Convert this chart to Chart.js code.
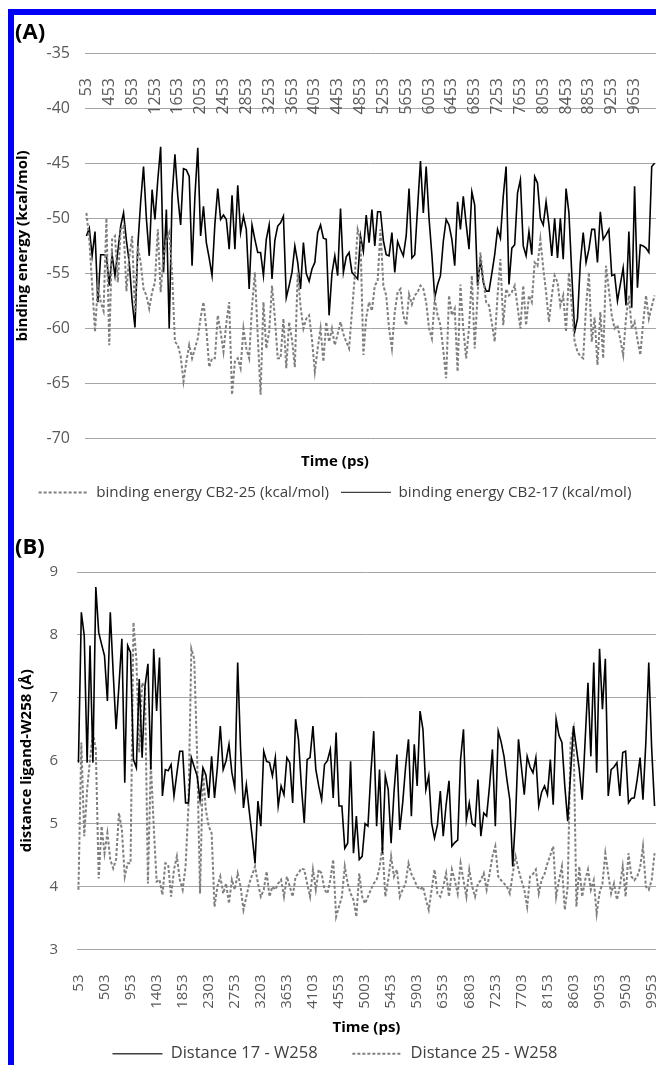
<!DOCTYPE html>
<html>
<head>
<meta charset="utf-8">
<script src="https://cdn.jsdelivr.net/npm/chart.js@4.4.1/dist/chart.umd.min.js"></script>
<style>
  html, body { margin: 0; padding: 0; background: #fff; overflow: hidden; }
  #page { position: relative; width: 656px; height: 1065px; overflow: hidden; }
  #frame { position: absolute; left: 8px; top: 9px; right: 0; bottom: 0;
           border-top: 6px solid #0000f5; border-left: 6px solid #0000f5; }
  canvas { position: absolute; left: 14px; }
  .panel { position: absolute; left: 15px; font: bold 22px 'Open Sans', sans-serif; color: #000; }
</style>
</head>
<body>
<div id="page">
  <div id="frame"></div>
  <canvas id="chartA" width="642" height="495" style="top:15px"></canvas>
  <canvas id="chartB" width="642" height="542" style="top:530px"></canvas>
  <div class="panel" style="top:15px">(A)</div>
  <div class="panel" style="top:530px">(B)</div>
</div>
<script>
// time axis: one frame every 50 ps starting at 53 ps
var times = Array.from({ length: 200 }, function (_, i) { return 53 + 50 * i; });
var ticksA = [53, 453, 853, 1253, 1653, 2053, 2453, 2853, 3253, 3653, 4053, 4453, 4853,
  5253, 5653, 6053, 6453, 6853, 7253, 7653, 8053, 8453, 8853, 9253, 9653];
var ticksB = [53, 503, 953, 1403, 1853, 2303, 2753, 3203, 3653, 4103, 4553, 5003,
  5453, 5903, 6353, 6803, 7253, 7703, 8153, 8603, 9053, 9503, 9953];

// (A) binding energy, kcal/mol
var cb25 = [
  -49.5,-51.9,-56.0,-60.3,-56.1,-57.6,-58.4,-50.0,-61.5,-51.9,-51.6,-55.8,-51.0,-50.7,-56.6,-53.5,-51.6,-58.5,-52.5,-54.0,
  -56.4,-57.0,-58.2,-56.7,-55.8,-51.0,-56.7,-53.4,-52.0,-51.3,-55.0,-61.2,-61.5,-62.5,-64.8,-63.0,-61.5,-62.7,-61.8,-60.9,
  -59.0,-57.6,-60.0,-63.5,-62.7,-62.7,-58.8,-60.3,-62.1,-59.5,-57.6,-66.0,-63.0,-62.7,-63.6,-60.0,-61.8,-62.7,-58.0,-54.9,
  -60.6,-66.0,-57.6,-61.8,-60.3,-56.1,-59.0,-62.7,-62.7,-59.1,-63.6,-59.4,-61.0,-63.5,-54.9,-58.0,-60.0,-59.1,-58.8,-61.0,
  -63.9,-61.8,-60.0,-63.0,-59.4,-61.2,-60.0,-61.5,-60.5,-59.4,-60.5,-61.2,-61.8,-58.5,-55.2,-51.0,-51.9,-62.4,-59.0,-57.6,
  -58.4,-56.1,-55.7,-51.0,-56.1,-57.0,-60.0,-61.8,-58.5,-56.7,-56.4,-58.8,-59.7,-56.9,-57.8,-57.0,-56.7,-56.1,-56.4,-57.6,
  -60.0,-60.9,-57.3,-58.8,-59.7,-62.0,-64.5,-57.0,-58.8,-58.2,-63.9,-56.0,-60.0,-62.7,-60.0,-55.2,-61.8,-57.0,-53.1,-55.5,
  -57.6,-57.9,-59.5,-61.2,-57.0,-53.7,-59.7,-56.4,-57.0,-56.7,-56.1,-58.0,-60.0,-56.1,-59.7,-57.0,-57.6,-54.0,-54.3,-51.9,
  -54.5,-56.7,-59.4,-57.0,-55.2,-55.8,-57.9,-57.0,-60.3,-54.9,-58.0,-61.2,-62.1,-62.5,-62.7,-58.0,-54.9,-61.2,-59.0,-63.3,
  -58.5,-62.7,-54.3,-56.5,-58.8,-60.0,-59.7,-61.0,-62.4,-59.0,-57.0,-60.0,-59.4,-61.0,-62.4,-59.5,-57.0,-59.1,-58.0,-57.0
];
var cb17 = [
  -51.6,-50.9,-53.4,-51.2,-57.6,-53.3,-53.3,-53.4,-56.1,-53.3,-55.2,-53.0,-50.7,-49.5,-52.0,-54.0,-57.5,-59.9,-52.5,-48.5,
  -45.3,-50.0,-53.4,-47.4,-50.1,-46.5,-43.5,-54.9,-49.2,-60.0,-48.0,-44.2,-48.0,-50.6,-45.5,-45.6,-46.2,-54.3,-48.0,-43.6,
  -51.6,-48.9,-52.2,-53.6,-55.2,-50.5,-47.3,-50.1,-49.7,-50.1,-52.8,-47.9,-52.8,-47.0,-51.3,-49.8,-51.0,-56.4,-50.6,-51.9,
  -53.1,-53.1,-55.2,-51.9,-50.6,-55.5,-52.0,-50.7,-50.4,-49.8,-57.2,-56.1,-54.9,-52.5,-54.0,-56.4,-52.2,-55.0,-55.7,-54.6,
  -54.0,-51.3,-50.6,-51.8,-51.9,-58.8,-55.0,-53.4,-55.2,-49.1,-54.9,-53.5,-53.1,-54.9,-55.2,-55.5,-51.6,-53.0,-49.7,-52.2,
  -49.2,-52.5,-49.4,-49.4,-52.0,-53.3,-53.4,-51.3,-54.9,-52.1,-52.8,-53.4,-51.6,-47.3,-53.6,-53.3,-49.0,-44.8,-49.5,-45.3,
  -50.0,-53.3,-57.2,-56.0,-55.2,-52.1,-50.1,-50.6,-51.9,-54.3,-48.5,-51.0,-48.0,-50.5,-52.8,-47.6,-48.8,-56.1,-53.7,-55.8,
  -56.6,-56.6,-55.0,-53.3,-51.0,-51.8,-48.0,-45.3,-56.0,-52.7,-52.4,-47.7,-46.5,-52.5,-53.4,-51.2,-53.3,-46.2,-46.8,-50.0,
  -50.6,-48.5,-50.6,-53.4,-50.0,-53.6,-50.0,-53.7,-47.3,-49.5,-55.0,-60.3,-59.1,-54.0,-51.3,-54.0,-52.8,-51.0,-51.0,-54.0,
  -49.4,-51.9,-51.5,-51.0,-55.2,-55.1,-57.5,-56.0,-54.5,-57.9,-51.2,-58.1,-47.1,-56.3,-52.4,-52.5,-52.7,-53.1,-45.3,-45.0
];

// (B) distance ligand - W258, angstrom
var d17 = [
  5.97,8.36,7.99,5.97,7.83,5.97,8.76,8.04,7.85,7.67,6.95,8.36,7.4,6.5,7.2,7.94,5.65,7.83,7.72,6.02,
  5.89,7.3,6.05,7.19,7.54,5.86,7.78,6.79,7.64,5.44,5.86,5.84,5.94,5.44,5.8,6.15,6.15,5.33,5.33,6.05,
  5.9,5.76,5.38,5.89,5.78,5.41,6.07,5.41,5.9,6.55,5.86,6.0,6.26,5.81,5.57,7.56,6.2,5.25,5.62,5.2,
  4.8,4.37,5.36,4.96,6.15,5.99,5.97,5.76,6.05,5.28,5.6,5.46,6.05,5.97,5.33,6.66,6.34,5.6,5.01,6.02,
  6.05,6.55,5.86,5.6,5.38,5.94,6.0,6.18,5.41,6.45,5.28,5.28,4.61,4.69,5.99,4.53,5.12,4.43,4.48,5.0,
  4.96,5.8,6.47,4.96,5.86,4.53,5.76,5.54,4.69,5.5,6.1,4.9,5.33,5.9,6.34,5.12,6.26,5.6,6.79,6.5,
  5.54,5.76,5.01,4.77,4.98,5.52,4.8,5.3,5.68,4.64,4.7,4.74,6.02,6.5,5.06,5.33,5.0,4.96,5.7,4.8,
  5.17,5.12,5.6,6.18,4.96,6.47,6.3,6.07,5.7,5.38,4.32,5.12,6.34,5.9,5.46,6.07,5.9,5.81,6.05,5.28,
  5.5,5.6,5.46,6.02,5.3,6.66,6.4,6.29,5.6,5.04,5.8,6.55,6.2,5.86,5.38,6.3,7.24,6.07,7.56,5.81,
  7.78,6.82,7.62,5.44,5.86,5.9,5.97,5.44,6.13,6.15,5.33,5.4,5.41,5.7,6.05,5.38,6.3,7.56,6.2,5.28
];
var d25 = [
  3.95,6.29,4.8,5.54,6.02,6.45,6.18,4.13,4.96,4.53,4.85,4.43,4.29,4.43,5.17,4.9,4.16,4.37,4.37,8.2,
  7.62,6.13,7.24,7.14,4.05,5.97,4.96,4.08,4.11,3.87,4.37,4.35,3.84,4.27,4.48,4.11,3.95,4.32,5.28,7.78,
  7.62,6.07,3.89,5.86,5.22,4.96,4.85,3.68,4.0,4.16,3.89,4.05,3.73,4.11,3.95,4.21,4.0,3.63,3.84,4.05,
  4.19,4.32,4.05,3.84,3.95,4.24,3.84,4.0,3.95,4.05,4.11,3.84,4.16,4.0,3.84,4.16,4.21,4.29,4.27,4.05,
  3.84,4.27,3.95,4.27,4.21,3.95,3.89,4.11,4.43,3.52,3.68,3.84,4.32,4.05,3.89,3.79,3.52,4.21,3.84,3.73,
  3.84,3.95,4.05,4.11,4.3,4.64,3.84,4.1,4.48,4.16,4.27,3.84,3.95,4.05,4.37,4.2,4.11,4.0,3.95,4.0,
  3.8,3.63,3.95,4.27,3.89,3.84,4.0,4.21,3.84,4.27,4.1,3.89,4.37,4.1,3.84,4.27,4.0,3.84,4.05,4.1,
  4.21,3.95,4.2,4.48,4.64,4.16,4.1,4.05,4.0,3.89,4.2,4.48,4.27,4.1,3.95,3.68,4.16,4.2,4.27,3.89,
  4.11,4.2,4.37,4.5,4.64,3.84,4.1,4.32,3.63,4.0,6.29,6.5,3.68,4.32,3.84,4.1,4.27,3.95,4.1,3.57,
  3.9,4.05,4.53,4.2,3.89,4.05,3.79,4.0,4.32,3.84,4.53,4.16,4.1,4.16,4.3,4.64,4.0,3.95,4.1,4.53
];

var FONT = "'Open Sans', sans-serif";
var tickColor = '#595959';
var gridColor = '#a6a6a6';

Chart.defaults.font.family = FONT;
Chart.defaults.color = tickColor;

function solidSet(label, data) {
  return { label: label, data: data, borderColor: '#000', backgroundColor: '#000',
    borderWidth: 1.6, pointRadius: 0, tension: 0, fill: false };
}
function dashedSet(label, data) {
  return { label: label, data: data, borderColor: '#7f7f7f', backgroundColor: '#7f7f7f',
    borderWidth: 2, borderDash: [3, 2], pointRadius: 0, tension: 0, fill: false };
}

// legend items take the dash pattern of their dataset; gap is widened with spaces
function legendLabels(gap) {
  return function (chart) {
    var items = Chart.defaults.plugins.legend.labels.generateLabels(chart);
    return items.map(function (item, i) {
      var ds = chart.data.datasets[item.datasetIndex];
      item.lineDash = ds.borderDash || [];
      item.lineWidth = ds.borderDash ? 2 : 1.3;
      item.strokeStyle = ds.borderDash ? '#7f7f7f' : '#404040';
      if (i < items.length - 1) item.text += '\u00a0'.repeat(gap);
      return item;
    });
  };
}

function timeTicks(list) {
  return function (value, index) {
    return list.indexOf(times[index]) >= 0 ? String(times[index]) : '';
  };
}

var boldTitle = { size: 15, weight: 'bold' };

var chartA = new Chart(document.getElementById('chartA'), {
  type: 'line',
  data: {
    labels: times,
    datasets: [dashedSet('binding energy CB2-25 (kcal/mol)', cb25),
               solidSet('binding energy CB2-17 (kcal/mol)', cb17)]
  },
  options: {
    responsive: false,
    animation: false,
    devicePixelRatio: 1,
    layout: { padding: { top: 38, right: 0, bottom: 0, left: 0 } },
    scales: {
      x: {
        position: { y: -35 },
        offset: true,
        grid: { display: false },
        border: { display: false },
        ticks: { autoSkip: false, minRotation: 90, maxRotation: 90, padding: 17,
                 font: { size: 16 }, callback: timeTicks(ticksA) },
        afterFit: function (s) { s.height = 0; s.paddingLeft = 0; s.paddingRight = 0; }
      },
      y: {
        min: -70, max: -35,
        ticks: { stepSize: 5, padding: 15, font: { size: 16 } },
        grid: { color: gridColor, drawTicks: false },
        border: { display: false },
        title: { display: true, text: 'binding energy (kcal/mol)', color: '#000',
                 font: boldTitle, padding: { top: 0, bottom: 0 } },
        afterFit: function (s) { s.width = 71; }
      }
    },
    plugins: {
      title: { display: true, text: 'Time (ps)', position: 'bottom', weight: 500, color: '#000',
               font: boldTitle, padding: { top: 14, bottom: 6 } },
      legend: { position: 'bottom', weight: 1000,
        labels: { usePointStyle: true, pointStyle: 'line', pointStyleWidth: 50, padding: 8,
                  color: '#404040', font: { size: 15.2 }, generateLabels: legendLabels(1) } },
      tooltip: { enabled: false }
    }
  }
});

var chartB = new Chart(document.getElementById('chartB'), {
  type: 'line',
  data: {
    labels: times,
    datasets: [solidSet('Distance 17 - W258', d17),
               dashedSet('Distance 25 - W258', d25)]
  },
  options: {
    responsive: false,
    animation: false,
    devicePixelRatio: 1,
    layout: { padding: { top: 42, right: 0, bottom: 0, left: 0 } },
    scales: {
      x: {
        position: 'bottom',
        offset: true,
        grid: { display: false },
        border: { display: false },
        ticks: { autoSkip: false, minRotation: 90, maxRotation: 90, padding: 17,
                 font: { size: 15 }, callback: timeTicks(ticksB) },
        title: { display: true, text: 'Time (ps)', color: '#000',
                 font: boldTitle, padding: { top: 0, bottom: 0 } },
        afterFit: function (s) { s.height = 87; s.paddingLeft = 0; s.paddingRight = 0; }
      },
      y: {
        min: 3, max: 9,
        ticks: { stepSize: 1, padding: 19, font: { size: 15 } },
        grid: { color: gridColor, drawTicks: false },
        border: { display: false },
        title: { display: true, text: 'distance ligand-W258 (Å)', color: '#000',
                 font: boldTitle, padding: { top: 4, bottom: 0 } },
        afterFit: function (s) { s.width = 63; }
      }
    },
    plugins: {
      legend: { position: 'bottom',
        labels: { usePointStyle: true, pointStyle: 'line', pointStyleWidth: 50, padding: 9,
                  color: '#404040', font: { size: 16.5 }, generateLabels: legendLabels(6) } },
      tooltip: { enabled: false }
    }
  }
});
</script>
</body>
</html>
